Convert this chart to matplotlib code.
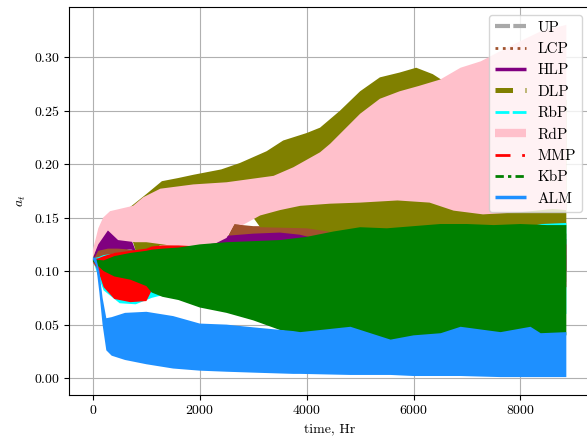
import matplotlib
matplotlib.use("Agg")
import matplotlib.pyplot as plt
from matplotlib.lines import Line2D

plt.rcParams.update({
    "font.family": "serif",
    "font.serif": ["cmr10", "DejaVu Serif"],
    "mathtext.fontset": "cm",
    "axes.formatter.use_mathtext": True,
    "font.size": 10,
})

labels = ["UP", "LCP", "HLP", "DLP", "RbP", "RdP", "MMP", "KbP", "ALM"]
colors = ["darkgray", "sienna", "purple", "olive", "cyan", "pink", "red", "green", "dodgerblue"]

# ---- envelopes (min / max of each noisy series) ----
up_t = [0, 200, 8860]
up_lo = [0.108, 0.102, 0.090]
up_hi = [0.111, 0.109, 0.115]

lcp_t = [0, 100, 300, 500, 700, 1000, 2000, 2500, 2650, 2800, 3000, 3500, 4000, 4400, 4700, 5000, 8860]
lcp_lo = [0.108, 0.100, 0.100, 0.100, 0.100, 0.100, 0.100, 0.100, 0.100, 0.100, 0.100, 0.100, 0.100, 0.100, 0.100, 0.100, 0.100]
lcp_hi = [0.112, 0.120, 0.123, 0.122, 0.120, 0.120, 0.124, 0.130, 0.145, 0.143, 0.142, 0.142, 0.141, 0.140, 0.138, 0.135, 0.135]

hlp_t = [0, 100, 280, 470, 730, 800, 1500, 2000, 2500, 3000, 3500, 3870, 4200, 8860]
hlp_lo = [0.110, 0.119, 0.121, 0.121, 0.120, 0.118, 0.100, 0.100, 0.100, 0.100, 0.100, 0.100, 0.100, 0.100]
hlp_hi = [0.112, 0.128, 0.139, 0.130, 0.128, 0.119, 0.120, 0.130, 0.133, 0.135, 0.136, 0.134, 0.130, 0.130]

dlp_t = [0, 100, 300, 700, 800, 1150, 1250, 1600, 2000, 2100, 2600, 3000, 3130, 4000, 4400, 4700, 8860]
dlp_lo = [0.112, 0.128, 0.142, 0.135, 0.119, 0.119, 0.124, 0.124, 0.128, 0.132, 0.146, 0.150, 0.141, 0.140, 0.137, 0.125, 0.125]
dlp_ut = [0, 100, 300, 700, 1000, 1290, 1600, 1880, 2400, 2750, 3250, 3560, 4000, 4250, 4620, 5000, 5370, 5740, 6050, 6360, 6610, 7000, 8000, 8860]
dlp_hi = [0.113, 0.132, 0.148, 0.160, 0.172, 0.184, 0.187, 0.190, 0.195, 0.201, 0.212, 0.222, 0.229, 0.234, 0.2497, 0.268, 0.281, 0.2855, 0.290, 0.284, 0.276, 0.270, 0.260, 0.260]

rbp_t = [0, 100, 200, 500, 800, 1100, 1500, 2500, 4000, 6000, 8000, 8400, 8860]
rbp_lo = [0.110, 0.095, 0.082, 0.070, 0.069, 0.075, 0.080, 0.075, 0.060, 0.060, 0.060, 0.060, 0.060]
rbp_hi = [0.112, 0.113, 0.115, 0.117, 0.119, 0.120, 0.120, 0.124, 0.128, 0.135, 0.140, 0.144, 0.145]

rdp_lt = [0, 100, 280, 470, 790, 1000, 1300, 1700, 2000, 2300, 2500, 2650, 2800, 3130, 3500, 3880, 4440, 5000, 5700, 6300, 6750, 7300, 8000, 8600, 8860]
rdp_lo = [0.113, 0.125, 0.138, 0.129, 0.127, 0.127, 0.125, 0.122, 0.124, 0.126, 0.131, 0.144, 0.143, 0.152, 0.157, 0.161, 0.163, 0.164, 0.166, 0.164, 0.1565, 0.153, 0.155, 0.158, 0.157]
rdp_ut = [0, 100, 190, 320, 750, 940, 1260, 1880, 2500, 3380, 3750, 4000, 4250, 4440, 4620, 5000, 5370, 5740, 6100, 6500, 6880, 7260, 7760, 8380, 8860]
rdp_hi = [0.120, 0.140, 0.150, 0.156, 0.161, 0.169, 0.177, 0.181, 0.183, 0.189, 0.197, 0.204, 0.211, 0.219, 0.228, 0.247, 0.261, 0.268, 0.273, 0.279, 0.290, 0.296, 0.309, 0.324, 0.330]

mmp_t = [0, 100, 200, 400, 700, 1000, 1100, 1300, 1600, 2000, 3000, 8860]
mmp_lo = [0.109, 0.100, 0.085, 0.074, 0.071, 0.072, 0.082, 0.085, 0.085, 0.085, 0.085, 0.085]
mmp_hi = [0.111, 0.112, 0.114, 0.117, 0.119, 0.121, 0.123, 0.124, 0.124, 0.123, 0.125, 0.125]

kbp_t = [0, 200, 400, 700, 1000, 1100, 1300, 1600, 2000, 2500, 3000, 3500, 4000, 4500, 5000, 5500, 6000, 6500, 7000, 7500, 8000, 8500, 8860]
kbp_lo = [0.109, 0.100, 0.095, 0.092, 0.086, 0.080, 0.076, 0.073, 0.066, 0.061, 0.054, 0.045, 0.040, 0.040, 0.040, 0.035, 0.038, 0.040, 0.042, 0.040, 0.042, 0.040, 0.040]
kbp_hi = [0.111, 0.110, 0.114, 0.117, 0.119, 0.120, 0.121, 0.122, 0.125, 0.127, 0.128, 0.129, 0.132, 0.137, 0.141, 0.140, 0.142, 0.144, 0.144, 0.143, 0.144, 0.143, 0.143]

alm_t = [0, 60, 120, 180, 250, 350, 600, 1000, 1500, 2000, 2500, 3100, 3750, 3880, 4820, 5570, 6000, 6510, 6880, 7630, 8190, 8380, 8860]
alm_lo = [0.111, 0.105, 0.080, 0.050, 0.026, 0.021, 0.017, 0.013, 0.009, 0.007, 0.006, 0.005, 0.004, 0.004, 0.003, 0.003, 0.002, 0.002, 0.002, 0.001, 0.001, 0.001, 0.001]
alm_hi = [0.113, 0.112, 0.100, 0.075, 0.056, 0.057, 0.061, 0.062, 0.058, 0.051, 0.050, 0.047, 0.044, 0.043, 0.048, 0.036, 0.040, 0.042, 0.048, 0.043, 0.048, 0.042, 0.043]

bands = [
    (up_t, up_lo, up_t, up_hi),
    (lcp_t, lcp_lo, lcp_t, lcp_hi),
    (hlp_t, hlp_lo, hlp_t, hlp_hi),
    (dlp_t, dlp_lo, dlp_ut, dlp_hi),
    (rbp_t, rbp_lo, rbp_t, rbp_hi),
    (rdp_lt, rdp_lo, rdp_ut, rdp_hi),
    (mmp_t, mmp_lo, mmp_t, mmp_hi),
    (kbp_t, kbp_lo, kbp_t, kbp_hi),
    (alm_t, alm_lo, alm_t, alm_hi),
]

styles = [
    dict(ls=(0, (3.6, 0.8)), lw=3.0),
    dict(ls=":", lw=2.0),
    dict(ls="-", lw=2.5),
    dict(ls=(0, (3.5, 2.5)), lw=3.6),
    dict(ls=(0, (5, 1.2)), lw=2.0),
    dict(ls="-", lw=6.0),
    dict(ls=(0, (5.4, 4.2, 1, 4.2)), lw=2.0),
    dict(ls=(0, (3, 1.5, 1.2, 1.5)), lw=2.0),
    dict(ls="-", lw=2.5),
]

fig = plt.figure(figsize=(5.87, 4.40), dpi=100)
W, H = 587.0, 440.0
ax = fig.add_axes([69.3 / W, (H - 394.7) / H, (590 - 69.3) / W, (394.7 - 7.3) / H])

for (lt, lo, ut, hi), c in zip(bands, colors):
    xs = list(ut) + list(lt)[::-1]
    ys = list(hi) + list(lo)[::-1]
    ax.fill(xs, ys, color=c, lw=0)

handles = [Line2D([], [], color=c, solid_capstyle="butt", dash_capstyle="butt", **s)
           for c, s in zip(colors, styles)]
ax.legend(handles, labels, loc="upper right", fontsize=11)

ax.set_xticks([0, 2000, 4000, 6000, 8000])
ax.set_yticks([0.00, 0.05, 0.10, 0.15, 0.20, 0.25, 0.30])
ax.grid(True)
ax.set_axisbelow(True)
ax.set_xlabel("time, Hr")
ax.set_ylabel("$a_t$")

fig.savefig("out.png", dpi=100)
